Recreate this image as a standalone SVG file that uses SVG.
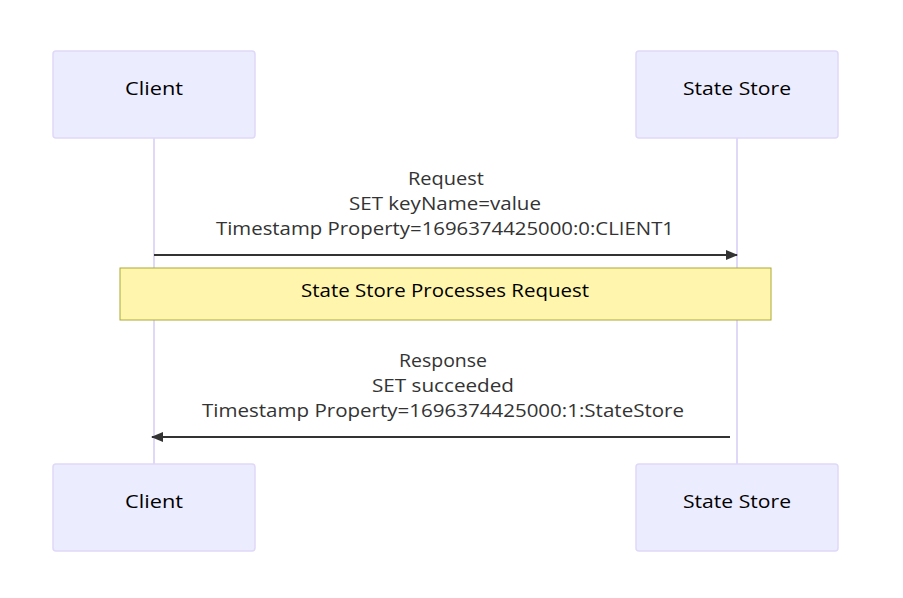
<svg xmlns="http://www.w3.org/2000/svg" width="903" height="598" viewBox="0 0 903 598">
<style>
.actor{fill:#ECECFF;stroke:#E0D8F8;stroke-width:1.5}
.atext{font-family:"Open Sans","DejaVu Sans",sans-serif;font-size:19px;fill:#000;text-anchor:middle;dominant-baseline:central}
.life{stroke:#E0D8F8;stroke-width:2;fill:none}
.msg{stroke:#333;stroke-width:2;fill:none}
.mtext{font-family:"Open Sans","DejaVu Sans",sans-serif;font-size:18px;fill:#333;text-anchor:middle;dominant-baseline:central}
.note{fill:#FFF5AD;stroke:#AAAA33;stroke-width:1}
</style>
<defs>
<marker id="arrow" viewBox="0 0 12 10" refX="11" refY="5" markerWidth="12" markerHeight="10" markerUnits="userSpaceOnUse" orient="auto">
<path d="M0,0 L12,5 L0,10 z" fill="#333"/>
</marker>
</defs>
<rect width="903" height="598" fill="#fff"/>
<g id="connectors">
<line class="life" x1="154" y1="138" x2="154" y2="464"/>
<line class="life" x1="737" y1="138" x2="737" y2="464"/>
<line class="msg" x1="154" y1="255" x2="737" y2="255" marker-end="url(#arrow)"/>
<line class="msg" x1="730" y1="437" x2="152" y2="437" marker-end="url(#arrow)"/>
<text class="mtext" x="446" y="178" textLength="76" lengthAdjust="spacingAndGlyphs">Request</text>
<text class="mtext" x="445" y="203" textLength="192" lengthAdjust="spacingAndGlyphs">SET keyName=value</text>
<text class="mtext" x="445" y="228" textLength="458" lengthAdjust="spacingAndGlyphs">Timestamp Property=1696374425000:0:CLIENT1</text>
<text class="mtext" x="443" y="360" textLength="88" lengthAdjust="spacingAndGlyphs">Response</text>
<text class="mtext" x="443" y="385" textLength="142" lengthAdjust="spacingAndGlyphs">SET succeeded</text>
<text class="mtext" x="443" y="410" textLength="482" lengthAdjust="spacingAndGlyphs">Timestamp Property=1696374425000:1:StateStore</text>
</g>
<g id="client-top"><rect class="actor" x="53" y="51" width="202" height="87" rx="3"/><text class="atext" x="154" y="88" textLength="58" lengthAdjust="spacingAndGlyphs">Client</text></g>
<g id="store-top"><rect class="actor" x="636" y="51" width="202" height="87" rx="3"/><text class="atext" x="737" y="88" textLength="108" lengthAdjust="spacingAndGlyphs">State Store</text></g>
<g id="note"><rect class="note" x="120" y="268" width="651" height="52"/><text class="mtext" x="445" y="290" textLength="288" lengthAdjust="spacingAndGlyphs" style="fill:#000">State Store Processes Request</text></g>
<g id="client-bottom"><rect class="actor" x="53" y="464" width="202" height="87" rx="3"/><text class="atext" x="154" y="501" textLength="58" lengthAdjust="spacingAndGlyphs">Client</text></g>
<g id="store-bottom"><rect class="actor" x="636" y="464" width="202" height="87" rx="3"/><text class="atext" x="737" y="501" textLength="108" lengthAdjust="spacingAndGlyphs">State Store</text></g>
</svg>
